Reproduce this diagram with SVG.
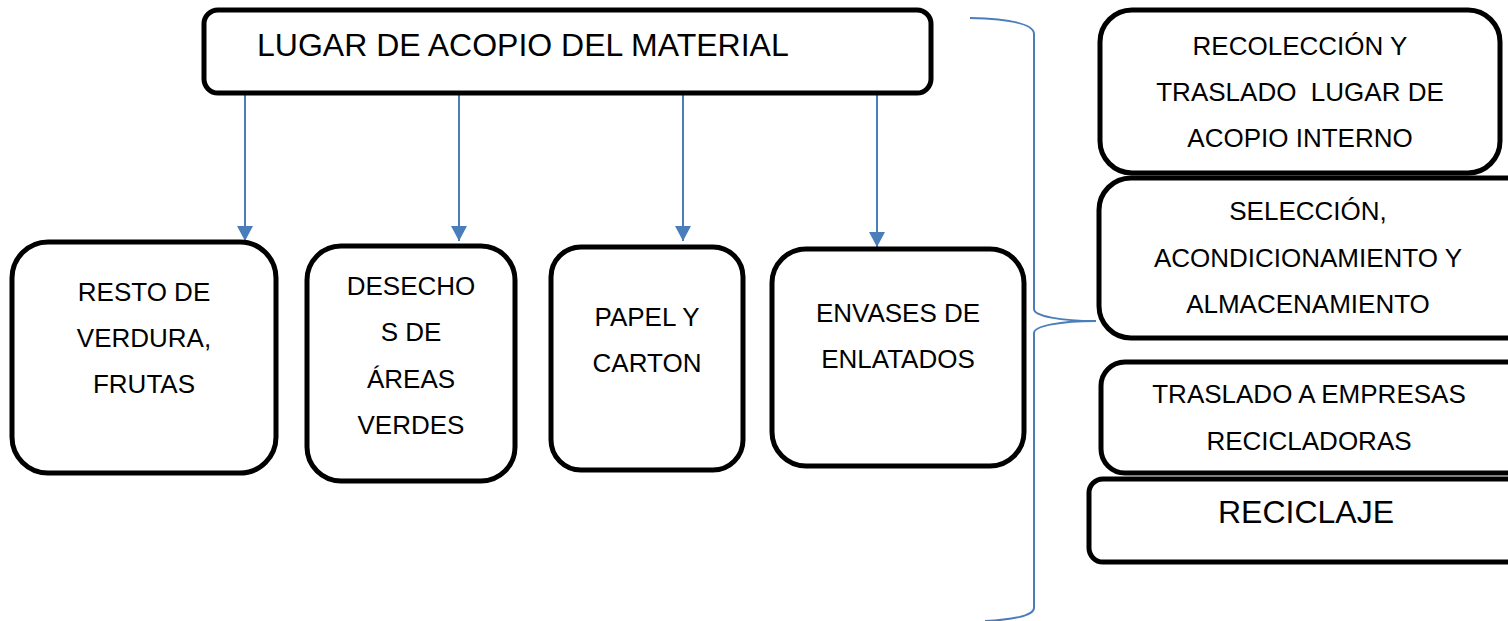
<svg xmlns="http://www.w3.org/2000/svg" width="1508" height="621" viewBox="0 0 1508 621">
<style>
.box{fill:#fff;stroke:#000;stroke-width:5}
.t{font-family:"Liberation Sans",Arial,sans-serif;font-size:26px;fill:#000;text-anchor:middle}
.tl{font-family:"Liberation Sans",Arial,sans-serif;font-size:32px;fill:#000}
.c{stroke:#4a7ebb;stroke-width:2;fill:none}
</style>
<defs>
<marker id="ah" markerUnits="userSpaceOnUse" markerWidth="18" markerHeight="18" viewBox="0 0 18 18" refX="16" refY="9" orient="auto">
<path d="M1,1 L16,9 L1,17 Z" fill="#4a7ebb"/>
</marker>
</defs>
<rect width="1508" height="621" fill="#fff"/>
<g id="connectors">
<line class="c" x1="245" y1="85" x2="245" y2="241" marker-end="url(#ah)"/>
<line class="c" x1="459" y1="85" x2="459" y2="241" marker-end="url(#ah)"/>
<line class="c" x1="683" y1="85" x2="683" y2="241" marker-end="url(#ah)"/>
<line class="c" x1="877" y1="91" x2="877" y2="247" marker-end="url(#ah)"/>
<path class="c" d="M970 18 C1010 19 1034 24 1034 34 L1034 309 C1034 316 1060 321 1096 321 C1060 321 1034 326 1034 333 L1034 608 C1034 616 1010 620 985 621"/>
</g>
<g id="n-lugar">
<rect class="box" x="204" y="10" width="727" height="83" rx="14"/>
<text class="tl" x="257" y="56">LUGAR DE ACOPIO DEL MATERIAL</text>
</g>
<g id="n-resto">
<rect class="box" x="12" y="242" width="264" height="231" rx="36"/>
<text class="t" x="144" y="301">RESTO DE</text>
<text class="t" x="144" y="347">VERDURA,</text>
<text class="t" x="144" y="393">FRUTAS</text>
</g>
<g id="n-desechos">
<rect class="box" x="307" y="246" width="208" height="235" rx="34"/>
<text class="t" x="411" y="295">DESECHO</text>
<text class="t" x="411" y="341">S DE</text>
<text class="t" x="411" y="388">ÁREAS</text>
<text class="t" x="411" y="434">VERDES</text>
</g>
<g id="n-papel">
<rect class="box" x="551" y="247" width="192" height="223" rx="30"/>
<text class="t" x="647" y="326">PAPEL Y</text>
<text class="t" x="647" y="372">CARTON</text>
</g>
<g id="n-envases">
<rect class="box" x="772" y="249" width="252" height="217" rx="34"/>
<text class="t" x="898" y="322">ENVASES DE</text>
<text class="t" x="898" y="368">ENLATADOS</text>
</g>
<g id="n-recoleccion">
<rect class="box" x="1100" y="10" width="400" height="163" rx="32"/>
<text class="t" x="1300" y="55">RECOLECCIÓN Y</text>
<text class="t" x="1300" y="101" xml:space="preserve">TRASLADO  LUGAR DE</text>
<text class="t" x="1300" y="147">ACOPIO INTERNO</text>
</g>
<g id="n-seleccion">
<rect class="box" x="1099" y="178" width="440" height="160" rx="32"/>
<text class="t" x="1308" y="220">SELECCIÓN,</text>
<text class="t" x="1308" y="267">ACONDICIONAMIENTO Y</text>
<text class="t" x="1308" y="313">ALMACENAMIENTO</text>
</g>
<g id="n-traslado">
<rect class="box" x="1101" y="362" width="440" height="111" rx="24"/>
<text class="t" x="1309" y="403">TRASLADO A EMPRESAS</text>
<text class="t" x="1309" y="450">RECICLADORAS</text>
</g>
<g id="n-reciclaje">
<rect class="box" x="1089" y="479" width="450" height="83" rx="14"/>
<text class="tl" x="1306" y="523" text-anchor="middle">RECICLAJE</text>
</g>
</svg>
